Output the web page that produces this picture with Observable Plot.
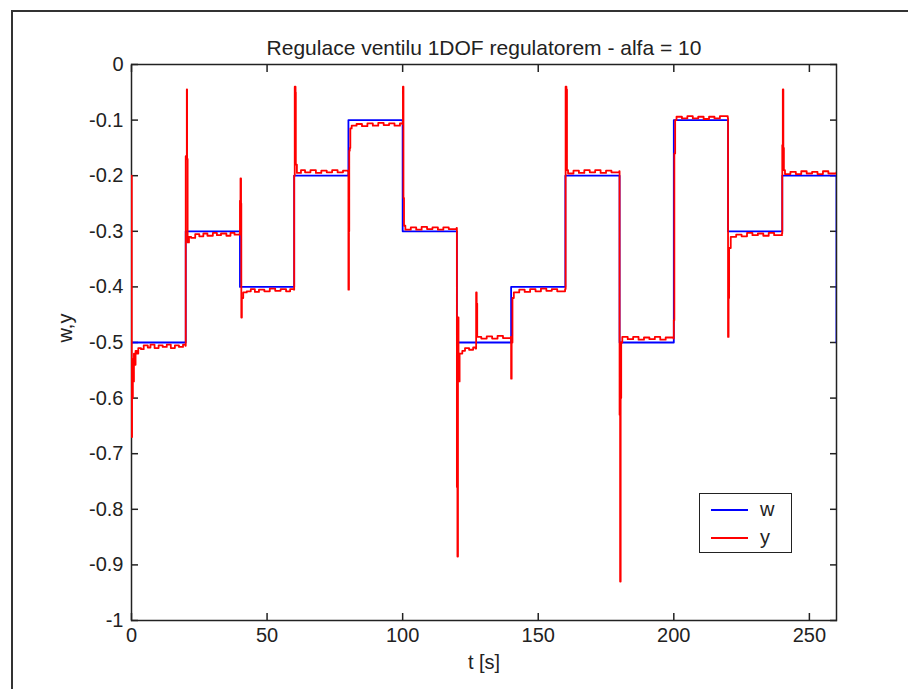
<!DOCTYPE html>
<html><head><meta charset="utf-8">
<script src="https://cdn.jsdelivr.net/npm/d3@7"></script>
<script src="https://cdn.jsdelivr.net/npm/@observablehq/plot@0.6"></script>
<style>
html,body{margin:0;padding:0;background:#fff;}
#wrap{position:relative;width:908px;height:689px;overflow:hidden;background:#fff;}
#border{position:absolute;left:11px;top:10px;width:1000px;height:1000px;border-left:2px solid #333;border-top:2px solid #333;}
#chart{position:absolute;left:0;top:0;}
#legend{position:absolute;left:699px;top:493px;width:91px;height:58px;border:1.5px solid #222;background:#fff;font-family:'Liberation Sans',Arial,sans-serif;font-size:20px;color:#222;}
#legend .sw{position:absolute;left:11px;width:37px;height:2px;}
#legend .lb{position:absolute;left:60px;line-height:20px;}
</style></head>
<body>
<div id="wrap"><div id="border"></div><div id="chart"></div><div id="legend"></div></div>
<script>
const chartTitle = "Regulace ventilu 1DOF regulatorem - alfa = 10";
const xLabel = "t [s]";
const yLabel = "w,y";
const xTicks = [0, 50, 100, 150, 200, 250];
const yTicks = [0, -0.1, -0.2, -0.3, -0.4, -0.5, -0.6, -0.7, -0.8, -0.9, -1];
const seriesNames = ["w", "y"];
const seriesColors = ["#0000ff", "#ff0000"];

// setpoint w (step function)
const wTime = [0, 20, 40, 60, 80, 100, 120, 140, 160, 180, 200, 220, 240, 260, 260];
const wValue = [-0.5, -0.3, -0.4, -0.2, -0.1, -0.3, -0.5, -0.4, -0.2, -0.5, -0.1, -0.3, -0.2, -0.2, -0.5];

// measured output y
const yTime = [
  0, 0.1, 0.2, 0.3, 0.5, 0.7, 0.9, 1.2, 1.5, 2, 2.5, 3.5, 4.5, 6, 7, 8.5, 10, 11.5, 13, 14.5, 16, 17.5, 19, 19.9,
  20.0, 20.3, 20.4, 20.5, 20.7, 21.2, 22, 23.5, 25, 26.5, 28, 30, 31.5, 33, 35, 36.5, 38, 39.9,
  40.0, 40.2, 40.4, 40.5, 40.7, 41.2, 42.5, 44, 45.5, 47, 49, 51, 53, 55, 57, 58.5, 59.9,
  60.0, 60.2, 60.5, 60.6, 61, 62.5, 64, 66, 68, 70, 72, 74, 76, 78, 79.9,
  80.0, 80.2, 80.3, 80.5, 80.7, 81.2, 83, 85, 87, 89, 91, 93, 95, 97, 99, 99.9,
  100.1, 100.3, 100.5, 101, 103, 105, 107, 109, 111, 113, 115, 117, 119.9,
  120.0, 120.2, 120.4, 120.6, 121, 122, 123, 124.5, 126, 126.9, 127.1, 127.3, 127.5, 129, 131, 133, 135, 137, 139.9,
  140.0, 140.2, 140.5, 141, 143, 145, 147, 149, 151, 153, 155, 157, 159.9,
  160.1, 160.4, 160.6, 161, 163, 165, 167, 169, 171, 173, 175, 177, 179.9,
  180.0, 180.2, 180.4, 180.6, 181, 183, 185, 187, 189, 191, 193, 195, 197, 199.9,
  200.0, 200.2, 200.5, 201, 203, 205, 207, 209, 211, 213, 215, 217, 219.9,
  220.0, 220.2, 220.4, 221, 223, 225, 227, 229, 231, 233, 235, 237, 239.9,
  240.0, 240.2, 240.4, 240.6, 241, 243, 245, 247, 249, 251, 253, 255, 257, 260
];
const yValue = [
  -0.20, -0.67, -0.55, -0.60, -0.53, -0.57, -0.52, -0.54, -0.515, -0.52, -0.51, -0.512, -0.505, -0.509, -0.504, -0.51, -0.505, -0.508, -0.504, -0.51, -0.505, -0.508, -0.504, -0.506,
  -0.165, -0.17, -0.045, -0.17, -0.32, -0.31, -0.312, -0.305, -0.309, -0.304, -0.308, -0.303, -0.307, -0.304, -0.308, -0.303, -0.306, -0.304,
  -0.245, -0.205, -0.25, -0.455, -0.42, -0.41, -0.408, -0.404, -0.409, -0.405, -0.408, -0.403, -0.407, -0.404, -0.408, -0.404, -0.405,
  -0.2, -0.04, -0.05, -0.18, -0.195, -0.19, -0.194, -0.19, -0.195, -0.191, -0.194, -0.19, -0.194, -0.191, -0.193,
  -0.405, -0.3, -0.155, -0.15, -0.115, -0.11, -0.107, -0.111, -0.106, -0.11, -0.105, -0.109, -0.106, -0.11, -0.106, -0.107,
  -0.04, -0.24, -0.29, -0.297, -0.293, -0.297, -0.292, -0.296, -0.293, -0.297, -0.293, -0.296, -0.294,
  -0.76, -0.885, -0.455, -0.57, -0.52, -0.515, -0.51, -0.513, -0.509, -0.511, -0.41, -0.43, -0.49, -0.493, -0.489, -0.493, -0.488, -0.492, -0.49,
  -0.565, -0.5, -0.42, -0.41, -0.405, -0.409, -0.404, -0.408, -0.403, -0.407, -0.404, -0.408, -0.404,
  -0.04, -0.045, -0.19, -0.196, -0.191, -0.195, -0.19, -0.194, -0.19, -0.195, -0.191, -0.194, -0.192,
  -0.63, -0.93, -0.6, -0.5, -0.49, -0.494, -0.49, -0.495, -0.491, -0.494, -0.49, -0.495, -0.491, -0.493,
  -0.46, -0.16, -0.1, -0.094, -0.097, -0.093, -0.097, -0.094, -0.098, -0.094, -0.097, -0.093, -0.096,
  -0.49, -0.42, -0.33, -0.31, -0.306, -0.309, -0.303, -0.307, -0.304, -0.308, -0.303, -0.307, -0.304,
  -0.145, -0.045, -0.15, -0.19, -0.197, -0.193, -0.197, -0.192, -0.196, -0.193, -0.197, -0.192, -0.196, -0.194
];

const wData = wTime.map((t, i) => ({t, v: wValue[i]}));
const yData = yTime.map((t, i) => ({t, v: yValue[i]}));
const font = "'Liberation Sans', Arial, sans-serif";
const ink = "#222";
const fmt = d => String(d);

const chart = Plot.plot({
  width: 908, height: 689,
  marginLeft: 131, marginRight: 72, marginTop: 64, marginBottom: 69,
  x: {domain: [0, 260]},
  y: {domain: [-1, 0]},
  style: {fontFamily: font, fontSize: "20px", color: ink, background: "transparent"},
  marks: [
    Plot.frame({stroke: ink, strokeWidth: 1.5}),
    Plot.axisX(xTicks, {anchor: "bottom", tickSize: -7, tickFormat: () => "", label: null, stroke: ink, strokeWidth: 1.5}),
    Plot.axisX(xTicks, {anchor: "top", tickSize: -7, tickFormat: () => "", label: null, stroke: ink, strokeWidth: 1.5}),
    Plot.axisY(yTicks, {anchor: "left", tickSize: -7, tickFormat: () => "", label: null, stroke: ink, strokeWidth: 1.5}),
    Plot.axisY(yTicks, {anchor: "right", tickSize: -7, tickFormat: () => "", label: null, stroke: ink, strokeWidth: 1.5}),
    Plot.axisX(xTicks, {anchor: "bottom", tickSize: 0, tickPadding: 7, tickFormat: fmt, label: null, fontSize: 20}),
    Plot.axisY(yTicks, {anchor: "left", tickSize: 0, tickPadding: 8, tickFormat: fmt, label: null, fontSize: 20}),
    Plot.line(wData, {x: "t", y: "v", stroke: seriesColors[0], strokeWidth: 1.8, curve: "step-after", clip: true}),
    Plot.line(yData, {x: "t", y: "v", stroke: seriesColors[1], strokeWidth: 1.8, curve: "step-after", clip: true}),
    Plot.text([chartTitle], {text: d => d, frameAnchor: "top", dy: -24, fontSize: 21, fill: ink}),
    Plot.text([xLabel], {text: d => d, frameAnchor: "bottom", dy: 48, fontSize: 20, fill: ink}),
    Plot.text([yLabel], {text: d => d, frameAnchor: "left", dx: -66, rotate: -90, fontSize: 20, fill: ink})
  ]
});
document.getElementById("chart").appendChild(chart);

const legend = document.getElementById("legend");
const rowTops = [16, 44];
seriesNames.forEach((name, i) => {
  const sw = document.createElement("div");
  sw.className = "sw";
  sw.style.top = (rowTops[i] - 1) + "px";
  sw.style.backgroundColor = seriesColors[i];
  legend.appendChild(sw);
  const lb = document.createElement("div");
  lb.className = "lb";
  lb.style.top = (rowTops[i] - 11) + "px";
  lb.textContent = name;
  legend.appendChild(lb);
});
</script>
</body></html>
